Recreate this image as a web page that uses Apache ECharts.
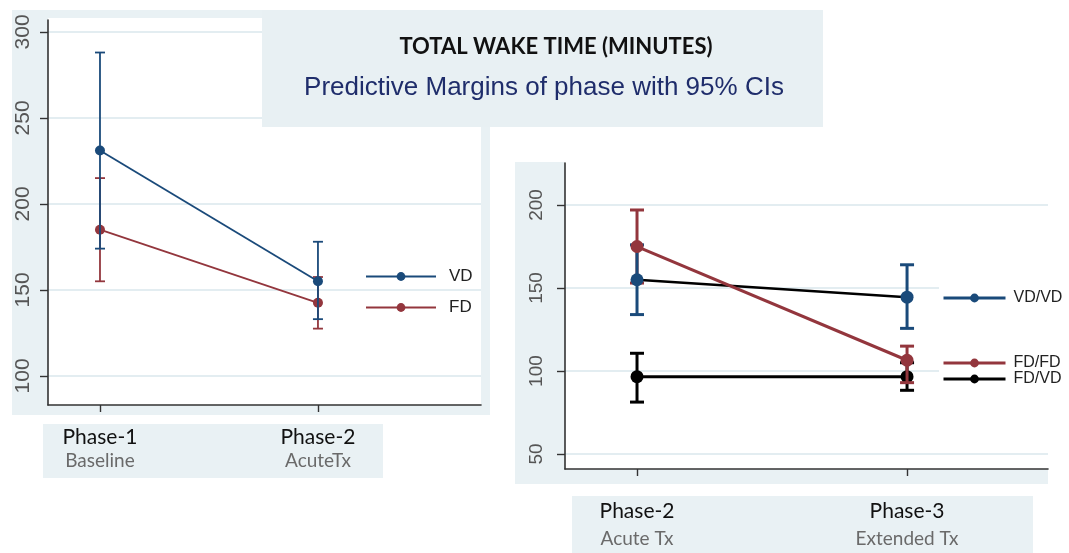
<!DOCTYPE html>
<html>
<head>
<meta charset="utf-8">
<script src="https://cdn.jsdelivr.net/npm/echarts@6/dist/echarts.min.js"></script>
<style>html,body{margin:0;padding:0;background:#fff}#c{width:1069px;height:553px}</style>
</head>
<body>
<div id="c"></div>
<script>
// ---- data ----
const leftCats = ['Phase-1', 'Phase-2'];
const leftSubs = ['Baseline', 'AcuteTx'];
const rightCats = ['Phase-2', 'Phase-3'];
const rightSubs = ['Acute Tx', 'Extended Tx'];
const leftTicks = [100, 150, 200, 250, 300];
const rightTicks = [50, 100, 150, 200];

const vdMean = [231, 155];
const vdLo = [174, 133];
const vdHi = [288, 178];
const fdMean = [185, 142.5];
const fdLo = [155, 127.5];
const fdHi = [215, 157.5];

const vdvdMean = [155, 144.5];
const vdvdLo = [134, 125.7];
const vdvdHi = [176, 164];
const fdfdMean = [175, 106.5];
const fdfdLo = [153, 93];
const fdfdHi = [197, 115];
const fdvdMean = [96.6, 96.6];
const fdvdLo = [81.3, 88.4];
const fdvdHi = [110.7, 105];

// ---- styling ----
const BLUE = '#1a4a7a';
const RED = '#93363d';
const BLACK = '#000000';
const BG = '#e9f1f4';
const GRIDC = '#e3edf1';

const pts = m => m.map((v, i) => [i, v]);
const ci = (lo, hi) => lo.map((v, i) => [i, v, hi[i]]);

function errRender(lw, cap) {
  return function (params, api) {
    const x = api.value(0), lo = api.value(1), hi = api.value(2);
    const p1 = api.coord([x, lo]), p2 = api.coord([x, hi]);
    const st = { stroke: api.visual('color'), lineWidth: lw };
    return {
      type: 'group',
      children: [
        { type: 'line', shape: { x1: p1[0], y1: p1[1], x2: p2[0], y2: p2[1] }, style: st },
        { type: 'line', shape: { x1: p1[0] - cap, y1: p1[1], x2: p1[0] + cap, y2: p1[1] }, style: st },
        { type: 'line', shape: { x1: p2[0] - cap, y1: p2[1], x2: p2[0] + cap, y2: p2[1] }, style: st }
      ]
    };
  };
}

function xAxisDef(gi, cats, subs, min, max, margin, lh) {
  return {
    type: 'value', gridIndex: gi, min: min, max: max,
    splitLine: { show: false },
    axisLine: { onZero: false, lineStyle: { color: '#333', width: 1.6 } },
    axisTick: { customValues: [0, 1], length: 7, lineStyle: { color: '#333', width: 1.4 } },
    axisLabel: {
      customValues: [0, 1], margin: margin,
      formatter: v => '{a|' + cats[Math.round(v)] + '}\n{b|' + subs[Math.round(v)] + '}',
      rich: {
        a: { fontFamily: 'Lato', fontSize: 21, color: '#111', lineHeight: lh, align: 'center' },
        b: { fontFamily: 'Lato', fontSize: 19, color: '#6a6a6a', lineHeight: lh, align: 'center' }
      }
    }
  };
}

function yAxisDef(gi, ticks, min, max, fs, margin) {
  return {
    type: 'value', gridIndex: gi, min: min, max: max,
    axisLine: { show: true, onZero: false, lineStyle: { color: '#333', width: 1.6 } },
    axisTick: { show: true, customValues: ticks, length: 8, lineStyle: { color: '#333', width: 1.4 } },
    axisLabel: { customValues: ticks, rotate: 90, margin: margin, fontFamily: 'Liberation Sans', fontSize: fs, color: '#555' },
    splitLine: { show: true, lineStyle: { color: GRIDC, width: 2 } }
  };
}

const chart = echarts.init(document.getElementById('c'), null, { renderer: 'canvas' });

const option = {
  animation: false,
  backgroundColor: '#fff',
  grid: [
    { left: 48, top: 20, width: 433, height: 385, outerBoundsMode: 'none', containLabel: false },
    { left: 565, top: 163, width: 483, height: 306, outerBoundsMode: 'none', containLabel: false }
  ],
  xAxis: [
    xAxisDef(0, leftCats, leftSubs, -0.2385, 1.748, 20, 24),
    xAxisDef(1, rightCats, rightSubs, -0.2667, 1.522, 29, 27)
  ],
  yAxis: [
    yAxisDef(0, leftTicks, 83.1, 306.9, 21, 14),
    yAxisDef(1, rightTicks, 41, 225.3, 19, 19)
  ],
  legend: [
    {
      data: ['VD', 'FD'], left: 365, top: 268, orient: 'vertical',
      itemWidth: 70, itemHeight: 11, itemGap: 14, padding: 0,
      lineStyle: { width: 2 },
      textStyle: { fontFamily: 'Liberation Sans', fontSize: 17, color: '#222', padding: [0, 0, 0, 8] }
    },
    {
      data: [{ name: 'VD/VD', itemStyle: { color: BLUE }, lineStyle: { color: BLUE, width: 3 } }],
      left: 939, top: 278, orient: 'vertical', backgroundColor: '#fff',
      itemWidth: 62, itemHeight: 11, padding: [12, 10, 12, 3],
      lineStyle: { width: 3 },
      textStyle: { fontFamily: 'Liberation Sans', fontSize: 16, color: '#222', padding: [0, 0, 0, 3] }
    },
    {
      data: ['FD/FD', 'FD/VD'], left: 939, top: 343, orient: 'vertical', backgroundColor: '#fff',
      itemWidth: 62, itemHeight: 11, itemGap: 0, padding: [12, 10, 12, 3],
      lineStyle: { width: 3 },
      textStyle: { fontFamily: 'Liberation Sans', fontSize: 16, color: '#222', lineHeight: 14, padding: [0, 0, 0, 3] }
    }
  ],
  graphic: [
    { type: 'rect', z: -20, shape: { x: 12, y: 10, width: 478, height: 405 }, style: { fill: BG } },
    { type: 'rect', z: -19, shape: { x: 48, y: 18, width: 433, height: 387 }, style: { fill: '#fff' } },
    { type: 'rect', z: -20, shape: { x: 515, y: 162, width: 533, height: 322 }, style: { fill: BG } },
    { type: 'rect', z: -19, shape: { x: 565, y: 162, width: 483, height: 307 }, style: { fill: '#fff' } },
    { type: 'rect', z: -20, shape: { x: 43, y: 424, width: 340, height: 54 }, style: { fill: BG } },
    { type: 'rect', z: -20, shape: { x: 572, y: 496, width: 461, height: 57 }, style: { fill: BG } },
    {
      type: 'group', z: 100,
      children: [
        { type: 'rect', z: 100, shape: { x: 262, y: 10, width: 561, height: 117 }, style: { fill: '#e8f0f3' } },
        { type: 'text', z: 101, x: 556, y: 47, style: { text: 'TOTAL WAKE TIME (MINUTES)', font: 'bold 22px Lato', fill: '#111', align: 'center', verticalAlign: 'middle', textAlign: 'center', textVerticalAlign: 'middle' } },
        { type: 'text', z: 101, x: 544, y: 88, style: { text: 'Predictive Margins of phase with 95% CIs', font: '26px "Liberation Sans"', fill: '#1f2d6b', align: 'center', verticalAlign: 'middle', textAlign: 'center', textVerticalAlign: 'middle' } }
      ]
    }
  ],
  series: [
    // left panel
    { name: 'FD CI', type: 'custom', xAxisIndex: 0, yAxisIndex: 0, z: 2, itemStyle: { color: RED },
      renderItem: errRender(1.8, 5), encode: { x: 0, y: [1, 2] }, data: ci(fdLo, fdHi) },
    { name: 'FD', type: 'line', xAxisIndex: 0, yAxisIndex: 0, z: 3, symbol: 'circle', symbolSize: 10,
      itemStyle: { color: RED }, lineStyle: { color: RED, width: 1.8 }, data: pts(fdMean) },
    { name: 'VD CI', type: 'custom', xAxisIndex: 0, yAxisIndex: 0, z: 4, itemStyle: { color: BLUE },
      renderItem: errRender(1.8, 5), encode: { x: 0, y: [1, 2] }, data: ci(vdLo, vdHi) },
    { name: 'VD', type: 'line', xAxisIndex: 0, yAxisIndex: 0, z: 5, symbol: 'circle', symbolSize: 10,
      itemStyle: { color: BLUE }, lineStyle: { color: BLUE, width: 1.8 }, data: pts(vdMean) },
    // right panel
    { name: 'FD/VD CI', type: 'custom', xAxisIndex: 1, yAxisIndex: 1, z: 2, itemStyle: { color: BLACK },
      renderItem: errRender(3, 7), encode: { x: 0, y: [1, 2] }, data: ci(fdvdLo, fdvdHi) },
    { name: 'FD/VD', type: 'line', xAxisIndex: 1, yAxisIndex: 1, z: 3, symbol: 'circle', symbolSize: 13,
      itemStyle: { color: BLACK }, lineStyle: { color: BLACK, width: 3 }, data: pts(fdvdMean) },
    { name: 'FD/FD CI', type: 'custom', xAxisIndex: 1, yAxisIndex: 1, z: 4, itemStyle: { color: RED },
      renderItem: errRender(3, 7), encode: { x: 0, y: [1, 2] }, data: ci(fdfdLo, fdfdHi) },
    { name: 'VD/VD CI', type: 'custom', xAxisIndex: 1, yAxisIndex: 1, z: 5, itemStyle: { color: BLUE },
      renderItem: errRender(3, 7), encode: { x: 0, y: [1, 2] }, data: ci(vdvdLo, vdvdHi) },
    { name: 'VD/VD', type: 'line', xAxisIndex: 1, yAxisIndex: 1, z: 6, symbol: 'circle', symbolSize: 13,
      itemStyle: { color: BLUE }, lineStyle: { color: BLACK, width: 2.5 }, data: pts(vdvdMean) },
    { name: 'FD/FD', type: 'line', xAxisIndex: 1, yAxisIndex: 1, z: 7, symbol: 'circle', symbolSize: 13,
      itemStyle: { color: RED }, lineStyle: { color: RED, width: 3 }, data: pts(fdfdMean) }
  ]
};
chart.setOption(option);
</script>
</body>
</html>
